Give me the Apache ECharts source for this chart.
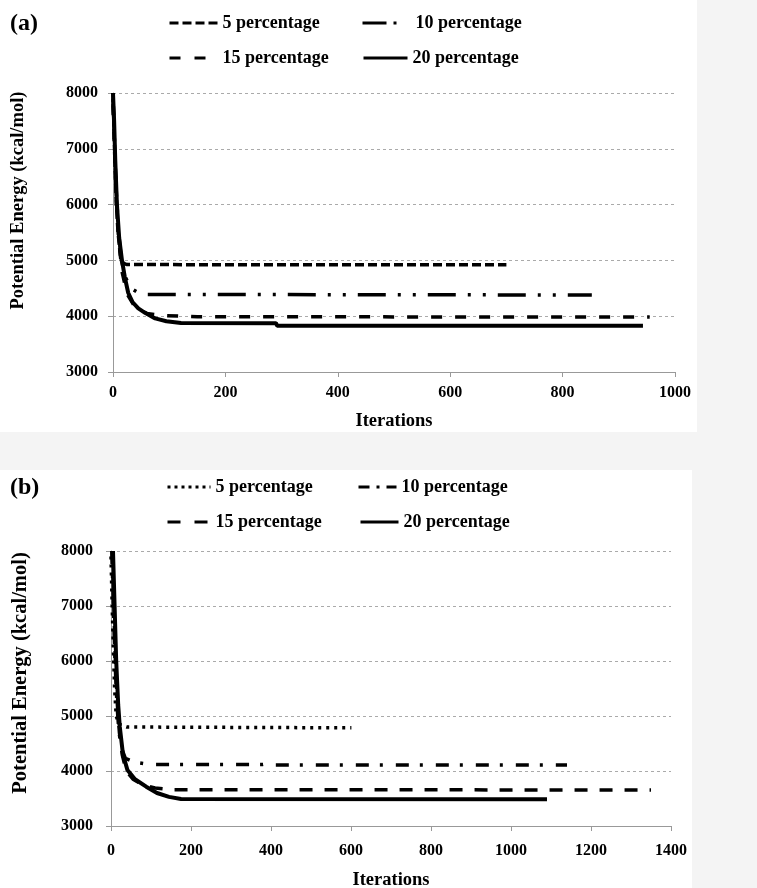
<!DOCTYPE html>
<html>
<head>
<meta charset="utf-8">
<script src="https://cdn.jsdelivr.net/npm/echarts@6/dist/echarts.min.js"></script>
<style>
  html, body { margin: 0; padding: 0; background: #f4f4f4; }
  #chart { width: 757px; height: 888px; }
</style>
</head>
<body>
<div id="chart"></div>
<script>
// panel (a)
const iterA5 = [0, 2, 4, 6, 9, 13, 18, 25, 700]
const energyA5 = [8000, 7300, 6600, 6000, 5500, 5100, 4950, 4925, 4920]
const iterA10 = [0, 3, 6, 10, 15, 22, 32, 45, 60, 852]
const energyA10 = [7900, 7000, 6200, 5500, 5000, 4700, 4500, 4420, 4390, 4380]
const iterA15 = [0, 3, 6, 10, 16, 25, 40, 60, 90, 150, 955]
const energyA15 = [7800, 6900, 6100, 5400, 4800, 4400, 4150, 4050, 4010, 3990, 3985]
const iterA20 = [0, 2, 4, 7, 11, 16, 21, 27, 35, 45, 57, 75, 95, 121, 290, 292, 943]
const energyA20 = [8000, 7500, 6800, 6000, 5400, 5000, 4700, 4420, 4250, 4140, 4060, 3960, 3910, 3880, 3875, 3830, 3830]

// panel (b)
const iterB5 = [0, 3, 6, 9, 13, 20, 40, 601]
const energyB5 = [7900, 7000, 6200, 5500, 5000, 4850, 4800, 4785]
const iterB10 = [2, 6, 10, 15, 20, 27, 36, 60, 95, 380, 390, 405, 1140]
const energyB10 = [8000, 7000, 6000, 5200, 4700, 4400, 4230, 4160, 4120, 4120, 4135, 4110, 4110]
const iterB15 = [3, 7, 11, 16, 21, 28, 38, 55, 80, 110, 150, 1350]
const energyB15 = [8000, 7000, 6000, 5200, 4700, 4300, 4000, 3850, 3750, 3690, 3660, 3655]
const iterB20 = [5, 9, 13, 18, 22, 30, 41, 60, 88, 115, 145, 175, 1090]
const energyB20 = [8000, 7000, 6000, 5200, 4800, 4300, 4020, 3850, 3715, 3600, 3530, 3490, 3485]

const legendNames = {
  a5: '5 percentage', a10: '10 percentage', a15: '15 percentage', a20: '20 percentage',
  b5: '5 percentage', b10: '10 percentage', b15: '15 percentage', b20: '20 percentage'
}
const xMaxA = 1000
const xMaxB = 1400

const serif = "'Liberation Serif', 'Times New Roman', serif"

function zip(xs, ys) {
  return xs.map((x, i) => [x, ys[i]])
}

function line(id, idx, xs, ys, dash, width) {
  return {
    name: id,
    type: 'line',
    xAxisIndex: idx,
    yAxisIndex: idx,
    data: zip(xs, ys),
    symbol: 'none',
    smooth: false,
    animation: false,
    lineStyle: { color: '#000', width: width || 3.5, type: dash, cap: 'butt' }
  }
}

function legend(id, left, top, w, dash) {
  return {
    data: [id],
    left: left,
    top: top,
    padding: 0,
    itemWidth: w,
    itemHeight: 14,
    itemGap: 0,
    selectedMode: false,
    formatter: n => legendNames[n],
    itemStyle: { color: 'rgba(0,0,0,0)', borderWidth: 0 },
    lineStyle: { width: 3, type: dash || 'inherit' },
    textStyle: { fontFamily: serif, fontWeight: 'bold', fontSize: 18, color: '#000' }
  }
}

function xAxis(idx, max, margin, gap) {
  return {
    gridIndex: idx,
    type: 'value',
    min: 0,
    max: max,
    interval: 200,
    name: 'Iterations',
    nameLocation: 'middle',
    nameGap: gap,
    nameTextStyle: { fontFamily: serif, fontWeight: 'bold', fontSize: 18.5, color: '#000' },
    axisLine: { show: true, lineStyle: { color: '#999', width: 1 } },
    axisTick: { show: true, length: 5, lineStyle: { color: '#999' } },
    axisLabel: { margin: margin, fontFamily: serif, fontWeight: 'bold', fontSize: 16, color: '#000', formatter: v => String(v) },
    splitLine: { show: false }
  }
}

function yAxis(idx, margin, gap, shift, size) {
  return {
    gridIndex: idx,
    type: 'value',
    min: 3000,
    max: 8000,
    interval: 1000,
    name: 'Potential Energy (kcal/mol)',
    nameLocation: 'middle',
    nameGap: gap,
    nameTextStyle: { fontFamily: serif, fontWeight: 'bold', fontSize: size, color: '#000', padding: [0, 0, 0, shift] },
    axisLine: { show: true, lineStyle: { color: '#999', width: 1 } },
    axisTick: { show: true, length: 5, lineStyle: { color: '#999' } },
    axisLabel: { margin: margin, fontFamily: serif, fontWeight: 'bold', fontSize: 16, color: '#000', formatter: v => String(v) },
    splitLine: { show: true, lineStyle: { color: '#aaa', type: [3, 3], width: 1 } }
  }
}

const chart = echarts.init(document.getElementById('chart'), null, { renderer: 'canvas' })
chart.setOption({
  backgroundColor: '#f4f4f4',
  animation: false,
  graphic: [
    { type: 'rect', z: -10, shape: { x: 0, y: 0, width: 697, height: 432 }, style: { fill: '#fff' } },
    { type: 'rect', z: -10, shape: { x: 0, y: 470, width: 692, height: 418 }, style: { fill: '#fff' } }
  ],
  title: [
    { text: '(a)', left: 5, top: 7, textStyle: { fontFamily: serif, fontWeight: 'bold', fontSize: 24, color: '#000' } },
    { text: '(b)', left: 5, top: 471, textStyle: { fontFamily: serif, fontWeight: 'bold', fontSize: 24, color: '#000' } }
  ],
  legend: [
    legend('a5', 168, 14, 48, [9, 4]),
    legend('a10', 361, 14, 48, [24, 7, 3, 20]),
    legend('a15', 168, 49, 48, [11, 14]),
    legend('a20', 362, 49, 44),
    legend('b5', 166, 478, 43, [3, 4]),
    legend('b10', 357, 478, 38, [11, 7, 3, 7]),
    legend('b15', 166, 513, 43, [13, 14]),
    legend('b20', 359, 513, 38)
  ],
  grid: [
    { left: 113, right: 82, top: 93, bottom: 516, outerBoundsMode: 'none' },
    { left: 111, right: 86, top: 551, bottom: 62, outerBoundsMode: 'none' }
  ],
  xAxis: [xAxis(0, xMaxA, 13, 40), xAxis(1, xMaxB, 17, 45)],
  yAxis: [yAxis(0, 15, 85, 64, 18.5), yAxis(1, 18, 80, 31, 20.5)],
  series: [
    line('a5', 0, iterA5, energyA5, [9, 4]),
    line('a10', 0, iterA10, energyA10, [28, 12, 3, 12, 3, 12]),
    line('a15', 0, iterA15, energyA15, [11, 13]),
    line('a20', 0, iterA20, energyA20, 'solid', 4),
    line('b5', 1, iterB5, energyB5, [3, 5]),
    line('b10', 1, iterB10, energyB10, [13, 11, 3, 13]),
    line('b15', 1, iterB15, energyB15, [13, 12]),
    line('b20', 1, iterB20, energyB20, 'solid', 4)
  ]
})
</script>
</body>
</html>
